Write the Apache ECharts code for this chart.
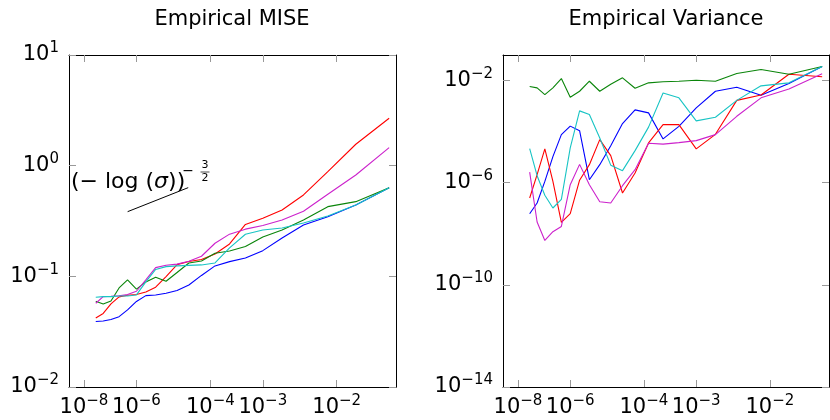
<!DOCTYPE html>
<html>
<head>
<meta charset="utf-8">
<script src="https://cdn.jsdelivr.net/npm/echarts@6/dist/echarts.min.js"></script>
<style>
  html, body { margin: 0; padding: 0; background: #fff; }
  #chart { width: 830px; height: 420px; }
</style>
</head>
<body>
<div id="chart"></div>
<script>
// bandwidths sigma (halving steps), plotted against -log(sigma) on an inverted log axis
const sigma = [3.16e-8, 6.31e-8, 1.26e-7, 2.51e-7, 5.01e-7, 1e-6, 2e-6, 3.98e-6, 7.94e-6, 1.58e-5,
  3.16e-5, 6.31e-5, 1.26e-4, 2.51e-4, 5.01e-4, 1e-3, 2e-3, 3.98e-3, 7.94e-3, 1.58e-2, 3.16e-2];

const sigmaTicks = [1e-8, 1e-6, 1e-4, 1e-3, 1e-2];
const miseTicks = [1e-2, 1e-1, 1, 10];
const varTicks = [1e-14, 1e-10, 1e-6, 1e-2];

// Empirical MISE
const miseBlue = [0.0391, 0.0395, 0.0408, 0.0432, 0.0497, 0.0593, 0.0669, 0.0679, 0.0704, 0.0746, 0.0836,
  0.1019, 0.1242, 0.1358, 0.1466, 0.1707, 0.2222, 0.2912, 0.3461, 0.4416, 0.6328];
const miseRed = [0.0421, 0.0462, 0.0563, 0.0652, 0.0675, 0.0686, 0.0723, 0.0797, 0.0994, 0.1276, 0.1363,
  0.1421, 0.1594, 0.1962, 0.2943, 0.3347, 0.3979, 0.5436, 0.8826, 1.561, 2.681];
const miseGreen = [0.0596, 0.0563, 0.0599, 0.0785, 0.0928, 0.0766, 0.089, 0.0982, 0.0903, 0.1084, 0.1321,
  0.1378, 0.1617, 0.1696, 0.1862, 0.2269, 0.2625, 0.3232, 0.4262, 0.4729, 0.6328];
const miseMagenta = [0.0571, 0.0656, 0.0661, 0.0668, 0.0684, 0.0733, 0.0928, 0.1199, 0.126, 0.1289, 0.1369,
  0.1519, 0.1991, 0.2405, 0.2669, 0.2884, 0.3232, 0.3873, 0.5515, 0.824, 1.454];
const miseCyan = [0.0648, 0.0656, 0.0656, 0.0665, 0.0665, 0.0679, 0.089, 0.1154, 0.1224, 0.1242, 0.1255,
  0.1268, 0.1321, 0.1805, 0.2401, 0.2625, 0.2736, 0.3037, 0.3513, 0.4416, 0.6328];

// Empirical Variance
const varBlue = [6.08e-8, 1.6e-7, 1.12e-6, 1.05e-5, 7.63e-5, 1.64e-4, 1.09e-4, 1.31e-6, 5.08e-6, 2.82e-5, 2.06e-4,
  7.1e-4, 5.41e-4, 5.17e-5, 1.61e-4, 8.5e-4, 3.81e-3, 5.46e-3, 2.65e-3, 7.63e-3, 3.54e-2];
const varRed = [2.51e-7, 2.06e-6, 2.1e-5, 1.12e-6, 2.82e-8, 6.2e-8, 1.25e-6, 5.08e-6, 4.86e-5, 1.15e-5, 3.95e-7,
  2.4e-6, 3.61e-5, 1.88e-4, 1.88e-4, 2.12e-5, 7.83e-5, 1.67e-3, 2.7e-3, 1.77e-2, 1.41e-2];
const varGreen = [5.82e-3, 5.17e-3, 2.82e-3, 5.17e-3, 1.198e-2, 2.21e-3, 3.81e-3, 9.39e-3, 3.81e-3, 7.16e-3, 1.276e-2,
  4.99e-3, 8.12e-3, 8.97e-3, 9.39e-3, 1.027e-2, 9.39e-3, 1.88e-2, 2.7e-2, 1.77e-2, 3.54e-2];
const varMagenta = [2.58e-6, 2.88e-8, 5.46e-9, 1.2e-8, 1.93e-8, 8.35e-7, 5.22e-6, 8.35e-7, 1.8e-7, 1.6e-7, 7.63e-7,
  3.23e-6, 3.48e-5, 3.23e-5, 3.7e-5, 4.44e-5, 7.63e-5, 3.98e-4, 2.1e-3, 4.64e-3, 1.83e-2];
const varCyan = [2.15e-5, 1.88e-6, 3.23e-7, 1.02e-7, 2.21e-7, 2.3e-5, 6.48e-4, 4.64e-4, 5.66e-5, 4.86e-6, 2.96e-6,
  1.8e-5, 1.5e-4, 3.23e-3, 2.1e-3, 2.63e-4, 3.64e-4, 1.67e-3, 6.2e-3, 8.12e-3, 3.54e-2];

// reference slope (-log sigma)^(-3/2), given in -log(sigma) units
const slopeX = [14.5, 10.4];
const slopeY = [0.384, 0.633];

const COLORS = { blue: '#0000ff', red: '#ff0000', green: '#0a850a', magenta: '#cc22cc', cyan: '#18c4c4' };
const FONT = 'DejaVu Sans';
const X_MIN = 3.327, X_MAX = 20.0;

const chart = echarts.init(document.getElementById('chart'));

const negLog = s => -Math.log(s);
const xTickVals = sigmaTicks.map(negLog);

const supLabel = e => '{b|10}{s|' + (e < 0 ? '\u2212' + (-e) : String(e)) + '}';
const rich = {
  b: { fontFamily: FONT, fontSize: 21, lineHeight: 28, color: '#000' },
  s: { fontFamily: FONT, fontSize: 15, lineHeight: 15, verticalAlign: 'top', color: '#000' }
};
const xLabelFmt = v => supLabel(Math.round(Math.log10(Math.exp(-v))));
const yLabelFmt = v => supLabel(Math.round(Math.log10(v)));

const tick = vals => ({
  show: true, inside: true, length: 7, customValues: vals,
  lineStyle: { color: '#999', width: 1 }
});
const frame = { show: true, onZero: false, lineStyle: { color: '#000', width: 1 } };

function xAxes(gi) {
  const base = {
    type: 'log', logBase: 10, gridIndex: gi, inverse: true, min: X_MIN, max: X_MAX,
    splitLine: { show: false }, axisLine: frame, axisTick: tick(xTickVals)
  };
  return [
    Object.assign({}, base, { position: 'bottom',
      axisLabel: { show: true, customValues: xTickVals, formatter: xLabelFmt, rich: rich, margin: 7 } }),
    Object.assign({}, base, { position: 'top', axisLabel: { show: false, customValues: xTickVals } })
  ];
}

function yAxes(gi, min, max, ticks) {
  const base = {
    type: 'log', logBase: 10, gridIndex: gi, min: min, max: max,
    splitLine: { show: false }, axisLine: frame, axisTick: tick(ticks)
  };
  return [
    Object.assign({}, base, { position: 'left',
      axisLabel: { show: true, customValues: ticks, formatter: yLabelFmt, rich: rich, margin: 10 } }),
    Object.assign({}, base, { position: 'right', axisLabel: { show: false, customValues: ticks } })
  ];
}

function line(name, ys, color, axisIdx) {
  return {
    name: name, type: 'line', xAxisIndex: axisIdx, yAxisIndex: axisIdx,
    data: sigma.map((s, i) => [negLog(s), ys[i]]),
    showSymbol: false, symbol: 'none', silent: true,
    lineStyle: { color: color, width: 1.1 }, itemStyle: { color: color }
  };
}

const series = [
  line('MISE blue', miseBlue, COLORS.blue, 0),
  line('MISE red', miseRed, COLORS.red, 0),
  line('MISE green', miseGreen, COLORS.green, 0),
  line('MISE magenta', miseMagenta, COLORS.magenta, 0),
  line('MISE cyan', miseCyan, COLORS.cyan, 0),
  line('Var blue', varBlue, COLORS.blue, 2),
  line('Var red', varRed, COLORS.red, 2),
  line('Var green', varGreen, COLORS.green, 2),
  line('Var magenta', varMagenta, COLORS.magenta, 2),
  line('Var cyan', varCyan, COLORS.cyan, 2),
  {
    name: 'slope', type: 'line', xAxisIndex: 0, yAxisIndex: 0,
    data: slopeX.map((x, i) => [x, slopeY[i]]),
    showSymbol: false, symbol: 'none', silent: true,
    lineStyle: { color: '#000', width: 1 }
  }
];

const titleStyle = { fontFamily: FONT, fontSize: 21, fill: '#000', align: 'center', verticalAlign: 'middle' };
const annotFont = { fontFamily: FONT, fill: '#000' };

chart.setOption({
  animation: false,
  grid: [
    { left: 69, top: 55, width: 327, height: 332 },
    { left: 503, top: 55, width: 326, height: 332 }
  ],
  xAxis: xAxes(0).concat(xAxes(1)),
  yAxis: yAxes(0, 1e-2, 10, miseTicks).concat(yAxes(1, 1e-14, 1e-1, varTicks)),
  series: series,
  graphic: [
    { type: 'text', x: 232, y: 20, style: Object.assign({ text: 'Empirical MISE' }, titleStyle) },
    { type: 'text', x: 666, y: 20, style: Object.assign({ text: 'Empirical Variance' }, titleStyle) },
    {
      type: 'text', x: 71, y: 182,
      style: Object.assign({
        text: '{a|(\u2212 log (}{i|\u03c3}{a|))}',
        verticalAlign: 'middle', align: 'left',
        rich: {
          a: { fontFamily: FONT, fontSize: 22, color: '#000' },
          i: { fontFamily: FONT, fontSize: 22, fontStyle: 'italic', color: '#000' }
        }
      }, annotFont)
    },
    { type: 'text', x: 188, y: 171, style: Object.assign({ text: '\u2212', fontSize: 14, align: 'center', verticalAlign: 'middle' }, annotFont) },
    { type: 'text', x: 205, y: 165.5, style: Object.assign({ text: '3', fontSize: 11, align: 'center', verticalAlign: 'middle' }, annotFont) },
    { type: 'line', shape: { x1: 200.5, y1: 172, x2: 209.5, y2: 172 }, style: { stroke: '#000', lineWidth: 0.7 } },
    { type: 'text', x: 205, y: 178.5, style: Object.assign({ text: '2', fontSize: 11, align: 'center', verticalAlign: 'middle' }, annotFont) }
  ]
});
</script>
</body>
</html>
